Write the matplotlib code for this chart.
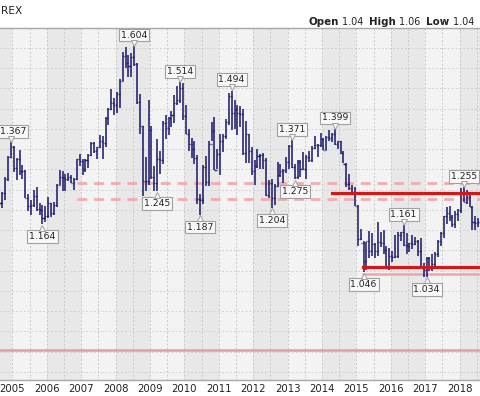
import matplotlib
matplotlib.use("Agg")
import matplotlib.pyplot as plt
import matplotlib.transforms as mtrans
import numpy as np

# ---- data (monthly OHLC, Aug 2004 .. Jul 2018) ----
start_year, start_month = 2004, 8
opens = [1.2170,1.2170,1.2420,1.2750,1.3300,
         1.3550,1.3040,1.3260,1.2960,1.2950,1.2300,1.2100,1.2120,1.2340,1.2030,1.1990,1.1790,
         1.1840,1.2160,1.1920,1.2120,1.2620,1.2810,1.2790,1.2760,1.2820,1.2670,1.2760,1.3250,
         1.3200,1.3000,1.3230,1.3360,1.3660,1.3450,1.3540,1.3690,1.3640,1.4260,1.4480,1.4630,
         1.4590,1.4860,1.5180,1.5790,1.5620,1.5540,1.5770,1.5600,1.4670,1.4080,1.2700,1.2700,
         1.3970,1.2800,1.2660,1.3250,1.3240,1.4150,1.4030,1.4260,1.4330,1.4640,1.4720,1.5000,
         1.4320,1.3870,1.3620,1.3510,1.3290,1.2270,1.2230,1.3060,1.2680,1.3630,1.3940,1.2990,
         1.3380,1.3690,1.3810,1.4160,1.4810,1.4400,1.4500,1.4390,1.4370,1.3400,1.3870,1.3450,
         1.2960,1.3080,1.3320,1.3340,1.3240,1.2370,1.2660,1.2300,1.2580,1.2860,1.2960,1.2990,
         1.3190,1.3580,1.3060,1.2820,1.3170,1.3000,1.3010,1.3300,1.3220,1.3530,1.3590,1.3590,
         1.3740,1.3480,1.3800,1.3770,1.3870,1.3630,1.3690,1.3390,1.3130,1.2630,1.2530,1.2450,
         1.2100,1.1290,1.1190,1.0730,1.1220,1.0990,1.1150,1.0990,1.1210,1.1180,1.1000,1.0570,
         1.0860,1.0830,1.0870,1.1380,1.1450,1.1130,1.1100,1.1170,1.1160,1.1240,1.0980,1.0590,
         1.0520,1.0800,1.0570,1.0650,1.0900,1.1240,1.1420,1.1840,1.1910,1.1810,1.1650,1.1900,
         1.2000,1.2410,1.2190,1.2320,1.2080,1.1690,1.1680]
highs = [1.2330,1.2440,1.2810,1.3330,1.3667,
         1.3580,1.3290,1.3480,1.3100,1.2990,1.2400,1.2250,1.2500,1.2550,1.2160,1.2110,1.2090,
         1.2320,1.2170,1.2190,1.2640,1.2980,1.2950,1.2890,1.2910,1.2860,1.2780,1.3260,1.3370,
         1.3250,1.3260,1.3380,1.3680,1.3680,1.3540,1.3850,1.3830,1.4280,1.4520,1.4970,1.4760,
         1.4900,1.5240,1.5900,1.6020,1.5820,1.5860,1.6038,1.5630,1.4870,1.4080,1.3300,1.4720,
         1.4060,1.3070,1.3740,1.3460,1.4180,1.4340,1.4300,1.4450,1.4840,1.5060,1.5144,1.5140,
         1.4580,1.3990,1.3760,1.3690,1.3340,1.2390,1.3100,1.3330,1.3690,1.4160,1.4280,1.3500,
         1.3860,1.3860,1.4250,1.4880,1.4940,1.4700,1.4580,1.4550,1.4480,1.4190,1.3870,1.3550,
         1.3230,1.3490,1.3380,1.3390,1.3280,1.2740,1.2750,1.2640,1.3170,1.3140,1.3010,1.3310,
         1.3590,1.3711,1.3130,1.3240,1.3240,1.3420,1.3340,1.3450,1.3570,1.3830,1.3620,1.3890,
         1.3770,1.3830,1.3970,1.3900,1.3993,1.3700,1.3700,1.3440,1.3160,1.2890,1.2600,1.2570,
         1.2110,1.1530,1.1240,1.1200,1.1470,1.1430,1.1190,1.1710,1.1460,1.1490,1.1100,1.1060,
         1.0990,1.1370,1.1440,1.1460,1.1616,1.1420,1.1180,1.1370,1.1330,1.1260,1.1300,1.0690,
         1.0830,1.0830,1.0910,1.0950,1.1260,1.1440,1.1850,1.2070,1.2090,1.1880,1.1960,1.2020,
         1.2540,1.2556,1.2480,1.2410,1.2100,1.1850,1.1790]
lows = [1.2010,1.2040,1.2250,1.2710,1.3270,
        1.2940,1.2730,1.2860,1.2760,1.2300,1.1960,1.1870,1.2060,1.1980,1.1870,1.1640,1.1700,
        1.1800,1.1820,1.1870,1.2060,1.2600,1.2460,1.2460,1.2700,1.2660,1.2480,1.2740,1.3080,
        1.2860,1.2930,1.3040,1.3330,1.3410,1.3260,1.3520,1.3260,1.3540,1.4090,1.4460,1.4350,
        1.4390,1.4510,1.5170,1.5510,1.5290,1.5280,1.5540,1.4610,1.3880,1.2330,1.2460,1.2600,
        1.2750,1.2460,1.2457,1.2890,1.3140,1.3750,1.3850,1.4050,1.4140,1.4580,1.4630,1.4220,
        1.3860,1.3440,1.3270,1.3120,1.2140,1.1876,1.2150,1.2590,1.2590,1.3690,1.2970,1.3000,
        1.2870,1.3430,1.3740,1.4100,1.3970,1.4000,1.3840,1.4040,1.3360,1.3150,1.3150,1.2860,
        1.2620,1.3030,1.3000,1.3000,1.2330,1.2290,1.2042,1.2130,1.2560,1.2800,1.2660,1.2920,
        1.3000,1.3040,1.2750,1.2750,1.2800,1.3000,1.2750,1.3180,1.3170,1.3490,1.3300,1.3540,
        1.3480,1.3470,1.3700,1.3670,1.3600,1.3500,1.3370,1.3150,1.2570,1.2500,1.2360,1.2100,
        1.1100,1.1260,1.0458,1.0520,1.0820,1.0860,1.0810,1.0850,1.1090,1.0900,1.0560,1.0520,
        1.0710,1.0810,1.0820,1.1220,1.1100,1.0910,1.0950,1.1040,1.1120,1.0850,1.0570,1.0350,
        1.0340,1.0490,1.0490,1.0570,1.0840,1.1110,1.1310,1.1660,1.1720,1.1570,1.1550,1.1720,
        1.1920,1.2200,1.2150,1.2070,1.1510,1.1510,1.1570]
closes = [1.2170,1.2420,1.2750,1.3300,1.3550,
          1.3040,1.3260,1.2960,1.2950,1.2300,1.2100,1.2120,1.2340,1.2030,1.1990,1.1790,1.1840,
          1.2160,1.1920,1.2120,1.2620,1.2810,1.2790,1.2760,1.2820,1.2670,1.2760,1.3250,1.3200,
          1.3000,1.3230,1.3360,1.3660,1.3450,1.3540,1.3690,1.3640,1.4260,1.4480,1.4630,1.4590,
          1.4860,1.5180,1.5790,1.5620,1.5540,1.5770,1.5600,1.4670,1.4080,1.2700,1.2700,1.3970,
          1.2800,1.2660,1.3250,1.3240,1.4150,1.4030,1.4260,1.4330,1.4640,1.4720,1.5000,1.4320,
          1.3870,1.3620,1.3510,1.3290,1.2270,1.2230,1.3060,1.2680,1.3630,1.3940,1.2990,1.3380,
          1.3690,1.3810,1.4160,1.4810,1.4400,1.4500,1.4390,1.4370,1.3400,1.3870,1.3450,1.2960,
          1.3080,1.3320,1.3340,1.3240,1.2370,1.2660,1.2300,1.2580,1.2860,1.2960,1.2990,1.3190,
          1.3580,1.3060,1.2820,1.3170,1.3000,1.3010,1.3300,1.3220,1.3530,1.3590,1.3590,1.3740,
          1.3480,1.3800,1.3770,1.3870,1.3630,1.3690,1.3390,1.3130,1.2630,1.2530,1.2450,1.2100,
          1.1290,1.1190,1.0730,1.1220,1.0990,1.1150,1.0990,1.1210,1.1180,1.1000,1.0570,1.0860,
          1.0830,1.0870,1.1380,1.1450,1.1130,1.1100,1.1170,1.1160,1.1240,1.0980,1.0590,1.0520,
          1.0800,1.0570,1.0650,1.0900,1.1240,1.1420,1.1840,1.1910,1.1810,1.1650,1.1900,1.2000,
          1.2410,1.2190,1.2320,1.2080,1.1690,1.1680,1.1690]

# pivot labels: (year, month, text, 'H' above high / 'L' below low)
pivots = [(2004, 12, "1.367", "H"), (2005, 11, "1.164", "L"), (2008, 7, "1.604", "H"),
          (2009, 3, "1.245", "L"), (2009, 11, "1.514", "H"), (2010, 6, "1.187", "L"),
          (2011, 5, "1.494", "H"), (2012, 7, "1.204", "L"), (2013, 2, "1.371", "H"),
          (2013, 3, "1.275", "L"), (2014, 5, "1.399", "H"), (2015, 3, "1.046", "L"),
          (2016, 5, "1.161", "H"), (2017, 1, "1.034", "L"), (2018, 2, "1.255", "H")]

# horizontal levels
dashed_levels = [1.2655, 1.2255]
dashed_start = 2006.88
red_levels = [(1.2425, 2014.28), (1.0575, 2015.2)]
pink_levels = [(1.0405, 2015.2)]
bottom_level = 0.8535

years = list(range(2005, 2019))
header_left = "REX"
header_right = [("Open", "1.04"), ("High", "1.06"), ("Low", "1.04")]

# ---- figure ----
W, H = 480, 396
fig = plt.figure(figsize=(W / 100, H / 100), dpi=100)
top_px, bot_px = 28, 380
ax = fig.add_axes([0, (H - bot_px) / H, 1, (bot_px - top_px) / H])

x0, x1 = 2004.64, 2004.64 + 480 / 34.4
y0, y1 = 0.7797, 1.6488
ax.set_xlim(x0, x1)
ax.set_ylim(y0, y1)
ax.set_facecolor("#f3f3f3")

# alternating year bands
for yr in range(2004, 2020):
    if yr % 2 == 0:
        ax.axvspan(yr, yr + 1, color="#e8e8e8", zorder=0, lw=0)

# grid
for gx in np.arange(2004.5, 2019.0, 0.5):
    ax.axvline(gx, color="#c8c8c8", lw=0.7, ls=(0, (2, 2)), zorder=1)
for gy in np.arange(0.80, 1.66, 0.05):
    ax.axhline(gy, color="#d2d2d2", lw=0.7, ls=(0, (2, 2)), zorder=1)

# levels
for lv in dashed_levels:
    ax.plot([dashed_start, x1], [lv, lv], color="#f2acb0", lw=2.0,
            ls=(0, (3.5, 2.5)), zorder=2, solid_capstyle="butt")
for lv, xs_ in pink_levels:
    ax.plot([xs_, x1], [lv, lv], color="#eca6ac", lw=1.8, zorder=2)
ax.axhline(bottom_level, color="#e89ca0", lw=1.8, zorder=2)

# OHLC bars
n = len(opens)
xs = np.array([start_year + (start_month - 1 + i + 0.5) / 12 for i in range(n)])
bar_col = "#16166c"
tick = 0.03
ax.vlines(xs, lows, highs, color=bar_col, lw=1.1, zorder=4)
ax.hlines(opens, xs - tick, xs, color=bar_col, lw=1.0, zorder=4)
ax.hlines(closes, xs, xs + tick, color=bar_col, lw=1.0, zorder=4)

for lv, xs_ in red_levels:
    ax.plot([xs_, x1], [lv, lv], color="#d41818", lw=2.3, zorder=5)

# pivot labels
for (py, pm, txt, kind) in pivots:
    idx = (py - start_year) * 12 + (pm - start_month)
    px = xs[idx]
    if kind == "H":
        yv = highs[idx]
        off = 8.0
        mk = "v"
        moff = 2.4
    else:
        yv = lows[idx]
        off = -8.8
        mk = "^"
        moff = -2.4
    dx = 1.6 if idx == 4 else 0.0
    ax.annotate(txt, xy=(px, yv), xytext=(dx, off), textcoords="offset points",
                ha="center", va="center", fontsize=6.7, color="#222222",
                family="DejaVu Sans", zorder=7,
                bbox=dict(boxstyle="square,pad=0.2", fc="#f8f8f8", ec="#a0a0a0", lw=0.8))
    tr = mtrans.offset_copy(ax.transData, fig=fig, x=0, y=moff, units="points")
    ax.plot([px], [yv], marker=mk, ms=4.5, mfc="#f8f8f8", mec="#a0a0a0", mew=0.7,
            transform=tr, zorder=8, clip_on=False)

# axes styling
for s in ["left", "right"]:
    ax.spines[s].set_visible(False)
for s in ["top", "bottom"]:
    ax.spines[s].set_color("#a8a8a8")
    ax.spines[s].set_linewidth(1.0)
ax.set_yticks([])
ax.set_xticks(years)
ax.set_xticklabels([str(y) for y in years], fontsize=7.3, color="#222222",
                   family="DejaVu Sans")
ax.tick_params(axis="x", length=0, pad=3)

# header texts
fig.text(1 / W, 1 - 11 / H, header_left, fontsize=7.6, color="#222222",
         va="center", ha="left", family="DejaVu Sans")
xr = 474 / W
parts = []
for lab, val in header_right:
    parts.append((lab, True))
    parts.append((" " + val + "  ", False))
parts[-1] = (parts[-1][0].rstrip(), False)
renderer = fig.canvas.get_renderer()
xcur = xr
for txt, bold in reversed(parts):
    t = fig.text(xcur, 1 - 22 / H, txt, fontsize=7.4 if bold else 6.9,
                 fontweight="bold" if bold else "normal", color="#222222",
                 va="center", ha="right", family="DejaVu Sans")
    bb = t.get_window_extent(renderer=renderer)
    xcur -= bb.width / W

fig.savefig("out.png", dpi=100)
